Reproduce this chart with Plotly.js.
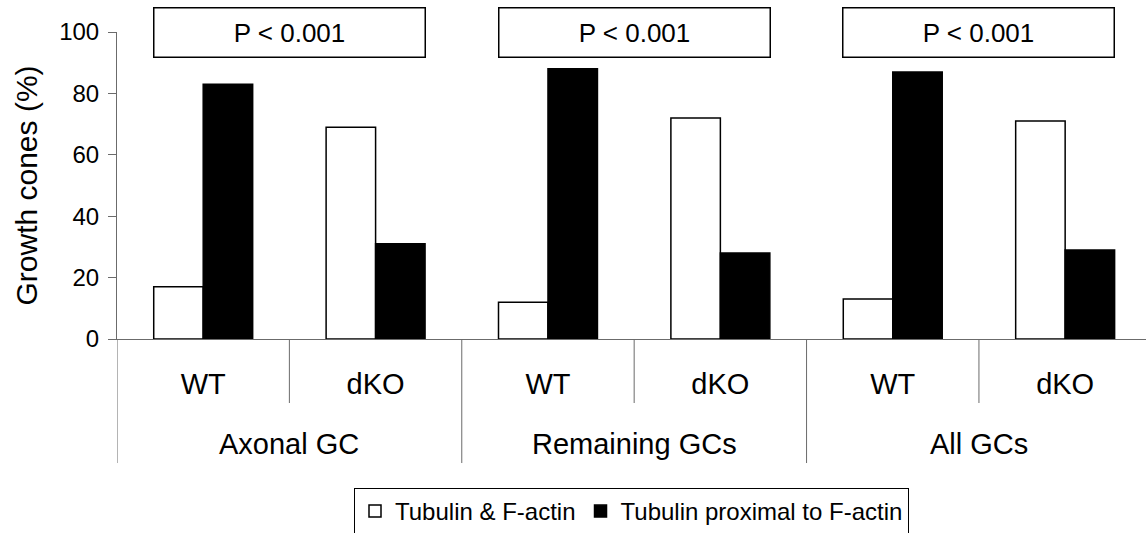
<!DOCTYPE html>
<html>
<head>
<meta charset="utf-8">
<script src="https://cdn.plot.ly/plotly-3.0.1.min.js"></script>
<style>
html,body{margin:0;padding:0;background:#fff;overflow:hidden;}
#chart{width:1146px;height:533px;}
</style>
</head>
<body>
<div id="chart"></div>
<script>
// ---- data ----
const groups = ['Axonal GC', 'Remaining GCs', 'All GCs'];
const conditions = ['WT', 'dKO'];
const tubulinAndFactin = [17, 69, 12, 72, 13, 71];       // white bars
const tubulinProximal = [83, 31, 88, 28, 87, 29];        // black bars
const pValues = ['P < 0.001', 'P < 0.001', 'P < 0.001'];
const seriesNames = ['Tubulin & F-actin', 'Tubulin proximal to F-actin'];
const yTicks = [0, 20, 40, 60, 80, 100];

// ---- build categories ----
const cats = [];
const catText = [];
groups.forEach(g => conditions.forEach(c => { cats.push(g + ' | ' + c); catText.push(c); }));

const FONT = 'Arial, "Liberation Sans", sans-serif';
const AXIS_GREY = '#6b6b6b';

const traces = [
  {
    type: 'bar', name: seriesNames[0], x: cats, y: tubulinAndFactin,
    marker: {color: '#ffffff', line: {color: '#000000', width: 1.5}},
    hoverinfo: 'none'
  },
  {
    type: 'bar', name: seriesNames[1], x: cats, y: tubulinProximal,
    marker: {color: '#000000', line: {color: '#000000', width: 1.5}},
    hoverinfo: 'none'
  }
];

// separators below the axis (category boundaries)
const shapes = [];
const nCat = cats.length;
const innerDepth = -0.2085;  // paper units below axis
const outerDepth = -0.404;
for (let i = 0; i <= nCat; i++) {
  const isOuter = (i % conditions.length === 0);
  shapes.push({
    type: 'line', xref: 'x', yref: 'paper',
    x0: i - 0.5, x1: i - 0.5, y0: 0, y1: isOuter ? outerDepth : innerDepth,
    line: {color: AXIS_GREY, width: 1}
  });
}

const annotations = [];
groups.forEach((g, gi) => {
  const center = gi * conditions.length + (conditions.length - 1) / 2;
  annotations.push({
    xref: 'x', yref: 'paper', x: center, y: -0.342,
    xanchor: 'center', yanchor: 'middle', showarrow: false,
    text: g, font: {family: FONT, size: 29, color: '#000'}
  });
  annotations.push({
    xref: 'x', yref: 'y', x: center, y: 100,
    xanchor: 'center', yanchor: 'middle', showarrow: false,
    text: pValues[gi], font: {family: FONT, size: 26, color: '#000'},
    width: 268, height: 46, borderpad: 1, borderwidth: 1.5,
    bordercolor: '#000', bgcolor: '#fff'
  });
});

const layout = {
  width: 1146, height: 533,
  margin: {l: 117, r: 0, t: 32, b: 194, pad: 0},
  paper_bgcolor: '#fff', plot_bgcolor: '#fff',
  font: {family: FONT, color: '#000'},
  barmode: 'group', bargap: 0.426, bargroupgap: 0,
  showlegend: true,
  legend: {
    orientation: 'h', xref: 'paper', x: 0.5, xanchor: 'center',
    yref: 'container', y: 0.0845, yanchor: 'top',
    bordercolor: '#000', borderwidth: 1, bgcolor: '#fff',
    font: {family: FONT, size: 24, color: '#000'},
    traceorder: 'normal'
  },
  xaxis: {
    type: 'category', range: [-0.5, 5.469],
    tickvals: cats, ticktext: catText,
    ticks: '', ticklabelstandoff: 19,
    tickfont: {family: FONT, size: 29, color: '#000'},
    showline: true, linecolor: AXIS_GREY, linewidth: 1,
    showgrid: false, zeroline: false, fixedrange: true,
    automargin: false
  },
  yaxis: {
    range: [0, 100], tickvals: yTicks,
    ticks: 'outside', ticklen: 8, tickcolor: AXIS_GREY, tickwidth: 1,
    ticklabelstandoff: 4,
    tickfont: {family: FONT, size: 24, color: '#000'},
    showline: true, linecolor: AXIS_GREY, linewidth: 1,
    showgrid: false, zeroline: false, fixedrange: true,
    title: {text: 'Growth cones (%)', font: {family: FONT, size: 30, color: '#000'}, standoff: 12},
    automargin: false
  },
  shapes: shapes,
  annotations: annotations
};

Plotly.newPlot('chart', traces, layout, {displayModeBar: false, staticPlot: true});
</script>
</body>
</html>
